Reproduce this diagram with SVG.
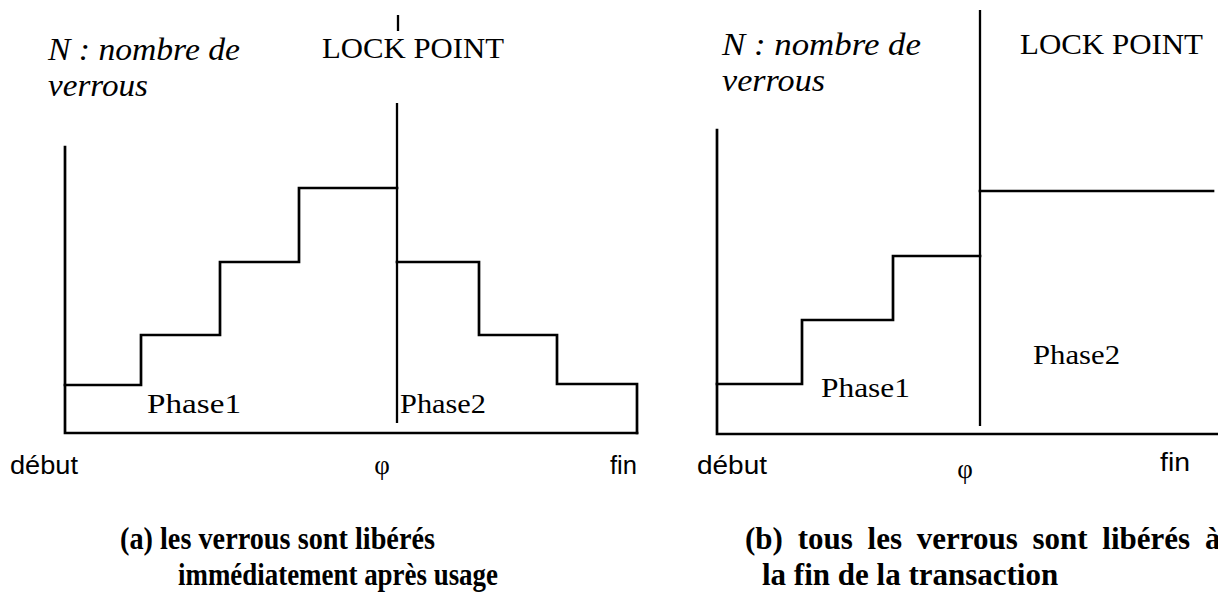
<svg xmlns="http://www.w3.org/2000/svg" width="1218" height="600" viewBox="0 0 1218 600">
  <style>
    .ln { fill: none; stroke: #000; stroke-width: 2.7; stroke-linejoin: miter; stroke-linecap: square; }
    .lk { fill: none; stroke: #000; stroke-width: 2.3; }
    .axis-title { font-family: "Liberation Serif", "Times New Roman", serif; font-style: italic; font-size: 32px; fill: #000; }
    .lock { font-family: "Liberation Serif", "Times New Roman", serif; font-size: 30px; fill: #000; }
    .phase { font-family: "Liberation Serif", "Times New Roman", serif; font-size: 28px; fill: #000; }
    .tick { font-family: "Liberation Sans", Arial, sans-serif; font-size: 25px; fill: #000; }
    .phi { font-family: "Liberation Serif", "Times New Roman", serif; font-size: 27px; fill: #000; text-anchor: middle; }
    .caption { font-family: "Liberation Serif", "Times New Roman", serif; font-weight: bold; font-size: 31px; fill: #000; }
  </style>

  <rect width="1218" height="600" fill="#fff"/>

  <!-- (a) locks released right after use -->
  <g id="panel-a">
    <path class="ln" d="M65,147 V433 H637"/>
    <!-- growing phase -->
    <path class="ln" d="M65,385 H141 V335 H220 V262 H299 V188 H397"/>
    <!-- shrinking phase -->
    <path class="ln" d="M397,262 H479 V335 H557 V384 H637 V433"/>
    <!-- lock point -->
    <path class="lk" d="M397,103 V423"/>
    <path class="lk" d="M398,15 V31"/>

    <text class="axis-title" x="48" y="60" textLength="192" lengthAdjust="spacingAndGlyphs">N : nombre de</text>
    <text class="axis-title" x="48" y="96" textLength="100" lengthAdjust="spacingAndGlyphs">verrous</text>
    <text class="lock" x="322" y="58" textLength="182" lengthAdjust="spacingAndGlyphs">LOCK POINT</text>
    <text class="phase" x="147" y="413" textLength="94" lengthAdjust="spacingAndGlyphs">Phase1</text>
    <text class="phase" x="400" y="413" textLength="86" lengthAdjust="spacingAndGlyphs">Phase2</text>
    <text class="tick" x="10" y="474" textLength="68" lengthAdjust="spacingAndGlyphs">début</text>
    <text class="phi" x="382" y="474">φ</text>
    <text class="tick" x="610" y="474" textLength="27" lengthAdjust="spacingAndGlyphs">fin</text>
    <text class="caption" x="120" y="549" textLength="315" lengthAdjust="spacingAndGlyphs">(a) les verrous sont libérés</text>
    <text class="caption" x="178" y="585" textLength="320" lengthAdjust="spacingAndGlyphs">immédiatement après usage</text>
  </g>

  <!-- (b) locks all released at the end of the transaction -->
  <g id="panel-b">
    <path class="ln" d="M717,130 V434 H1218"/>
    <path class="ln" d="M717,384 H802 V320 H893 V256 H980"/>
    <path class="ln" d="M980,191 H1213"/>
    <path class="lk" d="M980,10 V426"/>

    <text class="axis-title" x="722" y="55" textLength="199" lengthAdjust="spacingAndGlyphs">N : nombre de</text>
    <text class="axis-title" x="722" y="91" textLength="103" lengthAdjust="spacingAndGlyphs">verrous</text>
    <text class="lock" x="1020" y="54" textLength="183" lengthAdjust="spacingAndGlyphs">LOCK POINT</text>
    <text class="phase" x="821" y="397" textLength="89" lengthAdjust="spacingAndGlyphs">Phase1</text>
    <text class="phase" x="1033" y="364" textLength="87" lengthAdjust="spacingAndGlyphs">Phase2</text>
    <text class="tick" x="697" y="474" textLength="70" lengthAdjust="spacingAndGlyphs">début</text>
    <text class="phi" x="965" y="478">φ</text>
    <text class="tick" x="1160" y="471" textLength="30" lengthAdjust="spacingAndGlyphs">fin</text>
    <!-- first line runs past the right edge of the page -->
    <text class="caption" x="745" y="549" word-spacing="7">(b) tous les verrous sont libérés à</text>
    <text class="caption" x="762" y="585">la fin de la transaction</text>
  </g>
</svg>
